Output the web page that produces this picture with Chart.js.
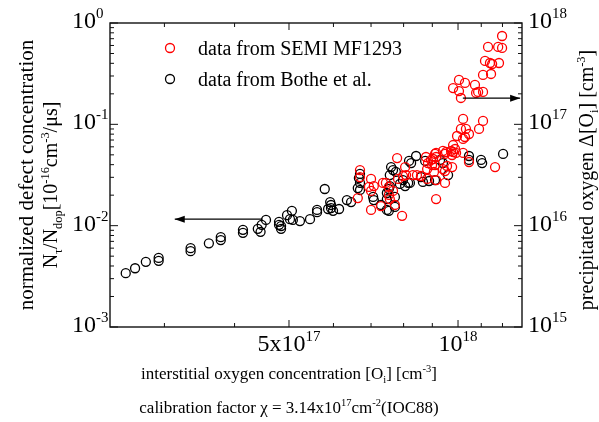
<!DOCTYPE html>
<html><head><meta charset="utf-8">
<script src="https://cdn.jsdelivr.net/npm/chart.js@4.4.0/dist/chart.umd.min.js"></script>
<style>html,body{margin:0;padding:0;background:#fff;}</style>
</head><body>
<canvas id="c" width="599" height="422" style="width:599px;height:422px;display:block"></canvas>
<script>
// ---- data (x: interstitial oxygen [cm^-3], y: N_tau/N_dop) ----
const semiO = [11.98e17,11.31e17,11.79e17,11.98e17,11.17e17,11.40e17,11.50e17,11.83e17,11.08e17,11.45e17,
  10.04e17,10.29e17,9.80e17,10.04e17,10.72e17,10.77e17,10.86e17,11.08e17,10.12e17,10.21e17,
  11.08e17,10.90e17,10.12e17,10.33e17,10.46e17,10.29e17,10.21e17,9.96e17,9.80e17,9.14e17,
  9.40e17,9.52e17,9.48e17,9.72e17,9.80e17,9.88e17,9.92e17,9.76e17,10.21e17,10.46e17,
  11.64e17,9.03e17,9.10e17,9.06e17,9.40e17,9.48e17,9.76e17,9.14e17,9.48e17,9.14e17,
  7.79e17,8.77e17,8.95e17,8.99e17,9.10e17,9.14e17,8.81e17,8.81e17,6.69e17,6.69e17,
  7.00e17,6.63e17,6.94e17,7.00e17,7.08e17,7.00e17,7.29e17,7.44e17,7.35e17,7.53e17,
  7.66e17,7.53e17,7.56e17,7.72e17,7.95e17,8.05e17,7.98e17,8.08e17,8.31e17,8.45e17,
  8.59e17,7.82e17,9.56e17,8.84e17];
const semiN = [0.744,0.580,0.580,0.567,0.422,0.403,0.394,0.403,0.307,0.314,
  0.274,0.256,0.228,0.213,0.245,0.204,0.209,0.209,0.182,0.113,
  0.108,0.090,0.090,0.090,0.0803,0.0750,0.0717,0.0767,0.0625,0.0522,
  0.0546,0.0533,0.0510,0.0546,0.0533,0.0571,0.0522,0.0498,0.0522,0.0425,
  0.0379,0.0455,0.0397,0.0339,0.0362,0.0346,0.0379,0.0282,0.0264,0.0183,
  0.0465,0.0476,0.0445,0.0397,0.0510,0.0476,0.0362,0.0289,0.0354,0.0302,
  0.0289,0.0187,0.0241,0.0220,0.0246,0.0143,0.0156,0.0264,0.0264,0.0241,
  0.0220,0.0201,0.0183,0.0160,0.0125,0.0379,0.0309,0.0316,0.0316,0.0316,
  0.0309,0.0289,0.0388,0.0415];
const botheO = [2.56e17,2.66e17,2.78e17,2.93e17,2.93e17,3.34e17,3.34e17,3.60e17,3.78e17,3.78e17,
  4.14e17,4.14e17,4.40e17,4.45e17,4.47e17,4.55e17,4.80e17,4.80e17,4.84e17,4.84e17,
  4.96e17,5.02e17,5.06e17,5.08e17,5.23e17,5.45e17,5.61e17,5.61e17,5.79e17,5.92e17,
  5.94e17,5.94e17,5.87e17,5.99e17,6.14e17,6.34e17,6.45e17,6.63e17,6.69e17,6.69e17,
  6.66e17,6.69e17,7.06e17,7.08e17,7.29e17,7.47e17,7.53e17,7.47e17,7.53e17,7.56e17,
  7.47e17,7.60e17,7.66e17,7.56e17,7.75e17,7.72e17,7.72e17,7.88e17,7.98e17,8.05e17,
  8.15e17,8.21e17,8.18e17,8.25e17,8.42e17,8.59e17,8.66e17,8.74e17,8.88e17,9.10e17,
  9.29e17,9.40e17,9.60e17,10.46e17,10.46e17,10.99e17,11.04e17,12.03e17];
const botheN = [0.0034,0.0038,0.0044,0.0048,0.0045,0.0060,0.0056,0.0067,0.0077,0.0072,
  0.0091,0.0085,0.0093,0.0087,0.0102,0.0114,0.0109,0.0102,0.0099,0.0093,
  0.0127,0.0116,0.0140,0.0114,0.0111,0.0116,0.0143,0.0136,0.0230,0.0171,
  0.0160,0.0149,0.0146,0.0140,0.0146,0.0179,0.0171,0.0235,0.0225,0.0324,
  0.0295,0.0264,0.0192,0.0179,0.0160,0.0143,0.0140,0.0210,0.0230,0.0246,
  0.0183,0.0379,0.0354,0.0316,0.0339,0.0192,0.0153,0.0258,0.0282,0.0246,
  0.0264,0.0264,0.0435,0.0415,0.0487,0.0302,0.0270,0.0435,0.0276,0.0282,
  0.0445,0.0415,0.0316,0.0487,0.0445,0.0445,0.0415,0.0510];
// arrows (pointing to the relevant axis)
const arrowLeftX = [4.49e17, 3.13e17];
const arrowLeftY = [0.0116, 0.0116];
const arrowRightX = [1.02e18, 1.29e18];
const arrowRightY = [0.181, 0.181];
// axis ranges and ticks
const xRange = [2.4e17, 1.3e18];
const yRange = [1e-3, 1];
const y2Range = [1e15, 1e18];
const xMinorTicks = [3e17,4e17,6e17,7e17,8e17,9e17,1.1e18,1.2e18];
const xMajorTicks = [5e17, 1e18];
const xTickBase = ['5x10', '10'];
const xTickExp = ['17', '18'];
const yDecades = [1e-3, 1e-2, 1e-1, 1];
const yTickExp = ['-3', '-2', '-1', '0'];
const y2Decades = [1e15, 1e16, 1e17, 1e18];
const y2TickExp = ['15', '16', '17', '18'];
const legendLabels = ['data from SEMI MF1293', 'data from Bothe et al.'];

const FONT = '"Liberation Serif","Times New Roman",serif';
const RED = '#ff0000';

function pts(xs, ys){ return xs.map((x,i)=>({x:x, y:ys[i]})); }

function drawRich(ctx, segs, x, y, size, align){
  const sub = size*0.62;
  let w = 0;
  for (const s of segs){ ctx.font = (s[1]==='n'?size:sub)+'px '+FONT; w += ctx.measureText(s[0]).width; }
  let cx = align==='center' ? x - w/2 : (align==='right' ? x - w : x);
  ctx.textAlign = 'left'; ctx.textBaseline = 'alphabetic';
  for (const s of segs){
    ctx.font = (s[1]==='n'?size:sub)+'px '+FONT;
    const dy = s[1]==='sup' ? -size*0.42 : (s[1]==='sub' ? size*0.25 : 0);
    ctx.fillText(s[0], cx, y+dy);
    cx += ctx.measureText(s[0]).width;
  }
}
function drawPow(ctx, base, exp, x, y, align){
  const B = 24, E = 15;
  ctx.font = B+'px '+FONT; const wb = ctx.measureText(base).width;
  ctx.font = E+'px '+FONT; const we = ctx.measureText(exp).width;
  let sx = align==='center' ? x - (wb+we)/2 : x;
  ctx.textAlign='left'; ctx.textBaseline='alphabetic';
  ctx.font = B+'px '+FONT; ctx.fillText(base, sx, y);
  ctx.font = E+'px '+FONT; ctx.fillText(exp, sx+wb, y-10);
}

const decor = {
  id: 'decor',
  afterDraw(chart){
    const ctx = chart.ctx, a = chart.chartArea;
    const sx = chart.scales.x, sy = chart.scales.y, sy2 = chart.scales.y2;
    ctx.save();
    ctx.strokeStyle = '#111'; ctx.fillStyle = '#000';
    ctx.lineWidth = 1.4;
    ctx.strokeRect(a.left, a.top, a.right-a.left, a.bottom-a.top);
    ctx.lineWidth = 1;
    ctx.beginPath();
    for (let i=0;i<yDecades.length;i++){
      const d = yDecades[i];
      const py = sy.getPixelForValue(d);
      ctx.moveTo(a.left, py); ctx.lineTo(a.left+8, py);
      const d2 = y2Decades[i];
      const py2 = sy2.getPixelForValue(d2);
      ctx.moveTo(a.right, py2); ctx.lineTo(a.right-8, py2);
      if (i < yDecades.length-1){
        for (let m=2;m<=9;m++){
          const p = sy.getPixelForValue(d*m);
          ctx.moveTo(a.left, p); ctx.lineTo(a.left+4, p);
          const p2 = sy2.getPixelForValue(d2*m);
          ctx.moveTo(a.right, p2); ctx.lineTo(a.right-4, p2);
        }
      }
    }
    for (const v of xMinorTicks){
      const px = sx.getPixelForValue(v);
      ctx.moveTo(px, a.bottom); ctx.lineTo(px, a.bottom-4);
      ctx.moveTo(px, a.top); ctx.lineTo(px, a.top+4);
    }
    for (const v of xMajorTicks){
      const px = sx.getPixelForValue(v);
      ctx.moveTo(px, a.bottom); ctx.lineTo(px, a.bottom-7);
      ctx.moveTo(px, a.top); ctx.lineTo(px, a.top+7);
    }
    ctx.stroke();
    function head(xv, yv, dir){
      const px = sx.getPixelForValue(xv), py = sy.getPixelForValue(yv);
      ctx.beginPath();
      ctx.moveTo(px, py); ctx.lineTo(px - dir*10, py-3.5); ctx.lineTo(px - dir*10, py+3.5); ctx.closePath();
      ctx.fill();
    }
    head(arrowLeftX[1], arrowLeftY[1], -1);
    head(arrowRightX[1], arrowRightY[1], 1);
    for (let i=0;i<yDecades.length;i++){
      drawPow(ctx, '10', yTickExp[i], 72, sy.getPixelForValue(yDecades[i])+5, 'left');
      drawPow(ctx, '10', y2TickExp[i], 528, sy2.getPixelForValue(y2Decades[i])+5, 'left');
    }
    for (let i=0;i<xMajorTicks.length;i++){
      drawPow(ctx, xTickBase[i], xTickExp[i], sx.getPixelForValue(xMajorTicks[i]), 351, 'center');
    }
    drawRich(ctx, [['interstitial oxygen concentration [O','n'],['i','sub'],['] [cm','n'],['-3','sup'],[']','n']], 289, 379, 17, 'center');
    drawRich(ctx, [['calibration factor \u03c7 = 3.14x10','n'],['17','sup'],['cm','n'],['-2','sup'],['(IOC88)','n']], 289, 413, 17, 'center');
    ctx.save(); ctx.translate(33, 175); ctx.rotate(-Math.PI/2);
    drawRich(ctx, [['normalized defect concentration','n']], 0, 0, 21, 'center');
    ctx.restore();
    ctx.save(); ctx.translate(57, 185); ctx.rotate(-Math.PI/2);
    drawRich(ctx, [['N','n'],['\u03c4','sub'],['/N','n'],['dop','sub'],['[10','n'],['-16','sup'],['cm','n'],['-3','sup'],['/\u03bcs]','n']], 0, 0, 20, 'center');
    ctx.restore();
    ctx.save(); ctx.translate(593, 180); ctx.rotate(-Math.PI/2);
    drawRich(ctx, [['precipitated oxygen \u0394[O','n'],['i','sub'],['] [cm','n'],['-3','sup'],[']','n']], 0, 0, 20, 'center');
    ctx.restore();
    const lc = [RED, '#000'], ly = [48, 79];
    for (let i=0;i<2;i++){
      ctx.beginPath(); ctx.strokeStyle = lc[i]; ctx.lineWidth = 1.3;
      ctx.arc(170, ly[i], 4.5, 0, Math.PI*2); ctx.stroke();
      ctx.fillStyle = '#000'; ctx.font = '20px '+FONT; ctx.textAlign='left'; ctx.textBaseline='alphabetic';
      ctx.fillText(legendLabels[i], 198, ly[i]+7);
    }
    ctx.restore();
  }
};

new Chart(document.getElementById('c'), {
  type: 'scatter',
  data: { datasets: [
    { label: legendLabels[0], data: pts(semiO, semiN), borderColor: RED, backgroundColor: 'rgba(0,0,0,0)',
      pointRadius: 4.5, pointBorderWidth: 1.3, pointHoverRadius: 4.5, order: 1 },
    { label: legendLabels[1], data: pts(botheO, botheN), borderColor: '#000', backgroundColor: 'rgba(0,0,0,0)',
      pointRadius: 4.5, pointBorderWidth: 1.3, pointHoverRadius: 4.5, order: 2 },
    { type: 'line', data: pts(arrowLeftX, arrowLeftY), borderColor: '#000', borderWidth: 1.2, pointRadius: 0, showLine: true, order: 0 },
    { type: 'line', data: pts(arrowRightX, arrowRightY), borderColor: '#000', borderWidth: 1.2, pointRadius: 0, showLine: true, order: 0 }
  ]},
  options: {
    responsive: false, animation: false, devicePixelRatio: 1,
    layout: { padding: { left: 110, right: 77, top: 23, bottom: 95 } },
    plugins: { legend: { display: false }, tooltip: { enabled: false } },
    scales: {
      x: { type: 'logarithmic', min: xRange[0], max: xRange[1], display: false },
      y: { type: 'logarithmic', min: yRange[0], max: yRange[1], display: false },
      y2: { type: 'logarithmic', min: y2Range[0], max: y2Range[1], display: false, position: 'right' }
    }
  },
  plugins: [decor]
});
</script>
</body></html>
